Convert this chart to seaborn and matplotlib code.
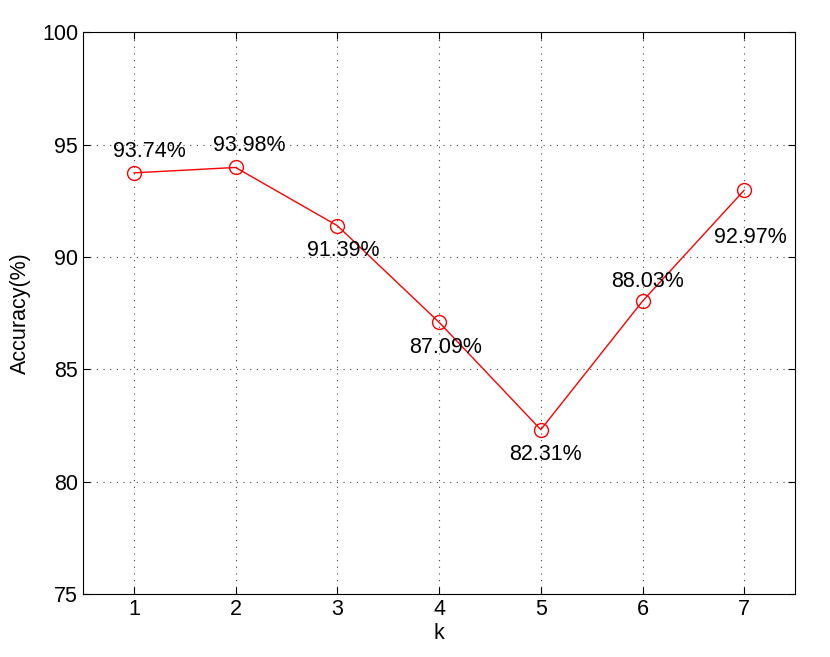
import matplotlib
matplotlib.use("Agg")
import matplotlib.pyplot as plt
import seaborn as sns
import pandas as pd

k_values = [1, 2, 3, 4, 5, 6, 7]
accuracy = [93.74, 93.98, 91.39, 87.09, 82.31, 88.03, 92.97]
y_ticks = [75, 80, 85, 90, 95, 100]

# label offsets from the marker, in pixels (x right, y up)
label_dx = [16, 14, 6, 6, 5, 5, 6]
label_dy = [21, 22, -25, -25, -25, 20, -47]

sns.set_style("white")
plt.rcParams['font.family'] = ['Liberation Sans', 'DejaVu Sans']
plt.rcParams['text.color'] = 'black'
plt.rcParams['axes.labelcolor'] = 'black'
plt.rcParams['xtick.color'] = 'black'
plt.rcParams['ytick.color'] = 'black'

df = pd.DataFrame({'k': k_values, 'acc': accuracy})

fig = plt.figure(figsize=(8.3, 6.57), dpi=100)
ax = fig.add_axes([0.1, 0.096, 0.858, 0.855])

sns.lineplot(data=df, x='k', y='acc', ax=ax, color='red', linewidth=1,
             marker='o', markersize=10, markerfacecolor='none',
             markeredgecolor='red', markeredgewidth=1)

px = 72 / 100
for x, y, dx, dy in zip(k_values, accuracy, label_dx, label_dy):
    ax.annotate(f"{y:.2f}%", (x, y), xytext=(dx * px, dy * px),
                textcoords='offset points', ha='center', va='center',
                fontsize=15.5, color='black')

ax.set_xlim(0.5, 7.5)
ax.set_ylim(75, 100)
ax.set_xticks(k_values)
ax.set_yticks(y_ticks)
ax.tick_params(direction='in', labelsize=15.5, length=5, top=True, right=True,
               bottom=True, left=True, colors='black')
ax.grid(True, linestyle=(0, (1, 5)), color='#444444', linewidth=0.8)
for s in ax.spines.values():
    s.set_color('black')
    s.set_linewidth(0.8)
ax.set_xlabel('k', fontsize=15.5, labelpad=2)
ax.set_ylabel('Accuracy(%)', fontsize=15.5, labelpad=8)

fig.savefig('out.png', dpi=100)
